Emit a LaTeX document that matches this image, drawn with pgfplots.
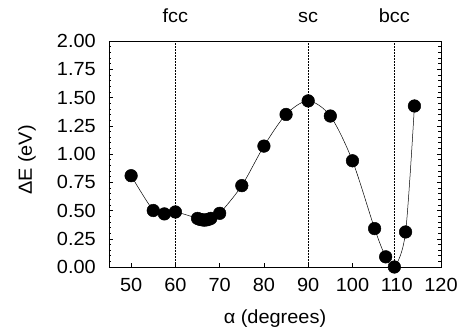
\documentclass[border=0pt]{standalone}
\usepackage{fontspec}
\setmainfont[FakeStretch=1.05]{Liberation Sans}
\usepackage{pgfplots}
\pgfplotsset{compat=1.18}
\newcommand{\bigf}{\fontsize{19bp}{22bp}\selectfont}
\begin{document}
\begin{tikzpicture}[font=\bigf]
\useasboundingbox (-109bp,-64bp) rectangle (353bp,267bp);
\begin{axis}[
  at={(0,0)}, anchor=south west,
  scale only axis, width=332bp, height=226bp,
  xmin=45, xmax=120, ymin=0, ymax=2,
  xtick={50,60,...,120},
  ytick={0,0.25,...,2.0},
  minor y tick num=4,
  xtick pos=lower, ytick pos=both,
  tick align=inside,
  major tick length=4bp, minor tick length=2.5bp,
  tick style={line width=0.5pt, black},
  axis line style={line width=0.8pt},
  font=\bigf,
  tick label style={font=\bigf},
  label style={font=\bigf},
  /pgf/number format/assume math mode=true,
  yticklabel style={xshift=-9.7bp, /pgf/number format/.cd, fixed, fixed zerofill, precision=2},
  xticklabel style={yshift=-7.7bp, /pgf/number format/.cd, fixed},
  xlabel={α (degrees)},
  ylabel={ΔE (eV)},
  xlabel style={at={([yshift=-56bp]axis description cs:0.5,0)}, anchor=base},
  ylabel style={at={([xshift=-77bp,yshift=-6bp]axis description cs:0,0.5)}, anchor=base},
  clip=false,
]
\addplot[black, line width=0.4pt, dash pattern=on 2bp off 1bp] coordinates {(60,0) (60,2)};
\addplot[black, line width=0.4pt, dash pattern=on 2bp off 1bp] coordinates {(90,0) (90,2)};
\addplot[black, line width=0.4pt, dash pattern=on 2bp off 1bp] coordinates {(109.47,0) (109.47,2)};
\node[anchor=base, font=\bigf] at (axis cs:60,2) [yshift=18bp] {fcc};
\node[anchor=base, font=\bigf] at (axis cs:90,2) [yshift=18bp] {sc};
\node[anchor=base, font=\bigf] at (axis cs:109.47,2) [yshift=18bp] {bcc};
\addplot[black, line width=0.5pt, smooth, tension=0.5, mark=*, mark size=6.3bp, mark options={fill=black}] coordinates {
(50,0.808) (55,0.50) (57.5,0.47) (60,0.487)
(65,0.43) (65.5,0.422) (66,0.418) (66.5,0.415) (67,0.417) (67.5,0.422) (68,0.43)
(70,0.475) (75,0.72) (80,1.07) (85,1.35) (90,1.47) (95,1.336)
(100,0.94) (105,0.34) (107.5,0.09) (109.47,0.0) (112,0.31) (114,1.425)
};
\end{axis}
\end{tikzpicture}
\end{document}
